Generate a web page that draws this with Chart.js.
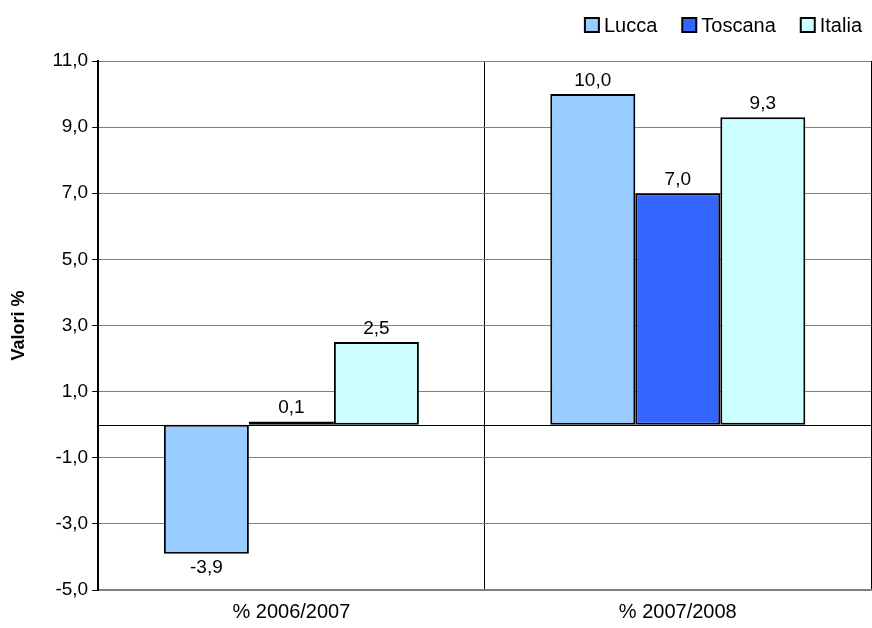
<!DOCTYPE html>
<html>
<head>
<meta charset="utf-8">
<script src="https://cdn.jsdelivr.net/npm/chart.js@4/dist/chart.umd.min.js"></script>
<style>
  html, body { margin: 0; padding: 0; background: #fff; }
  #wrap { width: 872px; height: 628px; }
</style>
</head>
<body>
<div id="wrap"><canvas id="grafico"></canvas></div>
<script>
// dati
const categorie = ['% 2006/2007', '% 2007/2008'];
const lucca = [-3.9, 10.0];
const toscana = [0.1, 7.0];
const italia = [2.5, 9.3];

const FONT = '"Liberation Sans", Arial, sans-serif';
const virgola = v => v.toFixed(1).replace('.', ',');

// etichette valori sulle barre
const etichette = {
  id: 'etichette',
  afterDatasetsDraw(chart) {
    const ctx = chart.ctx;
    ctx.save();
    ctx.font = '19px ' + FONT;
    ctx.fillStyle = '#000';
    ctx.textAlign = 'center';
    chart.data.datasets.forEach((ds, i) => {
      chart.getDatasetMeta(i).data.forEach((bar, j) => {
        const v = ds.data[j];
        if (v >= 0) {
          ctx.textBaseline = 'bottom';
          ctx.fillText(virgola(v), bar.x, bar.y - 4);
        } else {
          ctx.textBaseline = 'top';
          ctx.fillText(virgola(v), bar.x, bar.y + 5);
        }
      });
    });
    ctx.restore();
  }
};

// linea dello zero
const lineaZero = {
  id: 'lineaZero',
  beforeDatasetsDraw(chart) {
    const { ctx, chartArea, scales } = chart;
    const y = Math.round(scales.y.getPixelForValue(0)) + 0.5;
    ctx.save();
    ctx.strokeStyle = '#000';
    ctx.lineWidth = 1;
    ctx.beginPath();
    ctx.moveTo(chartArea.left, y);
    ctx.lineTo(chartArea.right, y);
    ctx.stroke();
    ctx.restore();
  }
};

// legenda in alto a destra, quadratini vicini al testo
const legenda = {
  id: 'legenda',
  afterDraw(chart) {
    const ctx = chart.ctx;
    const box = 14, gap = 5, spazio = 25, yc = 25;
    ctx.save();
    ctx.font = '20px ' + FONT;
    ctx.textBaseline = 'middle';
    ctx.textAlign = 'left';
    const ds = chart.data.datasets;
    const larghezze = ds.map(d => box + gap + ctx.measureText(d.label).width);
    let x = 862 - larghezze.reduce((a, b) => a + b, 0) - spazio * (ds.length - 1);
    ds.forEach((d, i) => {
      ctx.fillStyle = d.backgroundColor;
      ctx.fillRect(x, yc - box / 2, box, box);
      ctx.strokeStyle = '#000';
      ctx.lineWidth = 2;
      ctx.strokeRect(x, yc - box / 2, box, box);
      ctx.fillStyle = '#000';
      ctx.fillText(d.label, x + box + gap, yc + 1);
      x += larghezze[i] + spazio;
    });
    ctx.restore();
  }
};

new Chart(document.getElementById('grafico'), {
  type: 'bar',
  data: {
    labels: categorie,
    datasets: [
      { label: 'Lucca', data: lucca, backgroundColor: '#99ccff', borderColor: '#000', borderWidth: 2 },
      { label: 'Toscana', data: toscana, backgroundColor: '#3366ff', borderColor: '#000', borderWidth: 2 },
      { label: 'Italia', data: italia, backgroundColor: '#ccffff', borderColor: '#000', borderWidth: 2 }
    ]
  },
  options: {
    responsive: true,
    maintainAspectRatio: false,
    animation: false,
    datasets: {
      bar: { categoryPercentage: 0.66, barPercentage: 1.0, borderSkipped: false }
    },
    layout: { padding: { top: 61, right: 1, left: 8, bottom: 0 } },
    plugins: {
      legend: { display: false },
      tooltip: { enabled: false }
    },
    scales: {
      x: {
        afterFit: (s) => { s.height = 38; },
        grid: {
          offset: true,
          drawTicks: false,
          color: (c) => c.index === 2 ? '#808080' : '#000'
        },
        border: { color: '#808080', width: 2 },
        ticks: {
          color: '#000',
          padding: 10,
          font: { family: FONT, size: 20 }
        }
      },
      y: {
        min: -5,
        max: 11,
        ticks: {
          stepSize: 2,
          color: '#000',
          padding: 4,
          callback: v => virgola(v),
          font: { family: FONT, size: 19 }
        },
        grid: { color: '#808080', tickColor: '#000', tickLength: 6 },
        border: { color: '#000', width: 2 },
        title: {
          display: true,
          text: 'Valori %',
          color: '#000',
          padding: { top: 0, bottom: 19 },
          font: { family: FONT, size: 18, weight: 'bold' }
        }
      }
    }
  },
  plugins: [lineaZero, etichette, legenda]
});
</script>
</body>
</html>
